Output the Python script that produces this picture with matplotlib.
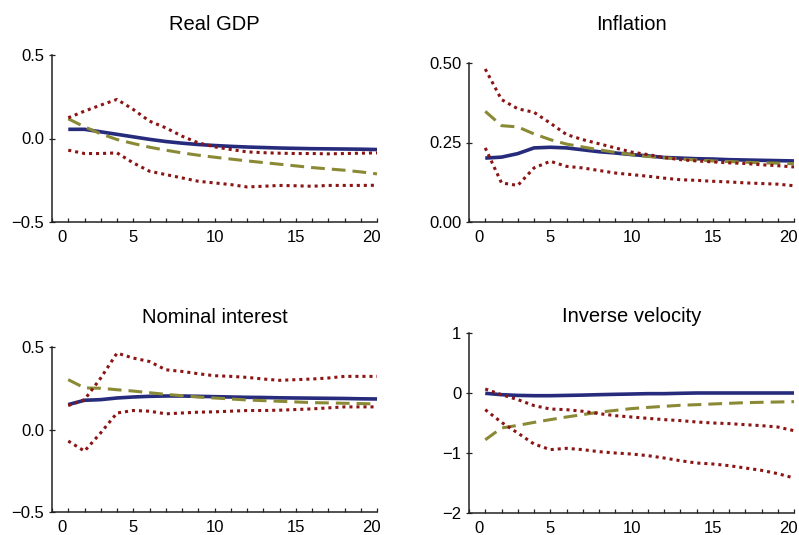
import matplotlib
matplotlib.use("Agg")
import matplotlib.pyplot as plt
import matplotlib.transforms as mtransforms
import numpy as np

plt.rcParams["font.family"] = ["Liberation Sans", "DejaVu Sans"]

periods = np.arange(1, 21)

# Real GDP
gdp_mean = [0.055, 0.055, 0.04, 0.025, 0.01, -0.005, -0.018, -0.028, -0.036, -0.042,
            -0.047, -0.051, -0.054, -0.057, -0.059, -0.061, -0.062, -0.063, -0.064, -0.066]
gdp_alt = [0.118, 0.07, 0.028, -0.006, -0.03, -0.052, -0.07, -0.086, -0.1, -0.112,
           -0.123, -0.134, -0.144, -0.154, -0.164, -0.174, -0.182, -0.19, -0.2, -0.212]
gdp_hi = [0.124, 0.164, 0.2, 0.234, 0.174, 0.104, 0.064, 0.014, -0.026, -0.05,
          -0.066, -0.08, -0.085, -0.088, -0.09, -0.09, -0.092, -0.09, -0.088, -0.086]
gdp_lo = [-0.07, -0.09, -0.09, -0.086, -0.146, -0.196, -0.216, -0.236, -0.256, -0.266,
          -0.276, -0.29, -0.286, -0.281, -0.283, -0.286, -0.281, -0.281, -0.281, -0.28]

# Inflation
inf_mean = [0.201, 0.204, 0.215, 0.233, 0.235, 0.233, 0.227, 0.221, 0.217, 0.212,
            0.208, 0.203, 0.201, 0.199, 0.198, 0.196, 0.195, 0.194, 0.193, 0.192]
inf_alt = [0.348, 0.303, 0.299, 0.277, 0.259, 0.245, 0.236, 0.227, 0.219, 0.212,
           0.206, 0.202, 0.198, 0.195, 0.192, 0.19, 0.188, 0.186, 0.185, 0.183]
inf_hi = [0.481, 0.385, 0.356, 0.345, 0.311, 0.275, 0.259, 0.246, 0.233, 0.22,
          0.212, 0.203, 0.196, 0.192, 0.189, 0.186, 0.184, 0.18, 0.177, 0.173]
inf_lo = [0.233, 0.123, 0.115, 0.17, 0.191, 0.175, 0.17, 0.162, 0.154, 0.149,
          0.144, 0.138, 0.133, 0.131, 0.128, 0.126, 0.123, 0.121, 0.119, 0.114]

# Nominal interest
int_mean = [0.151, 0.177, 0.181, 0.191, 0.197, 0.201, 0.203, 0.203, 0.201, 0.199,
            0.197, 0.195, 0.194, 0.192, 0.191, 0.19, 0.189, 0.188, 0.186, 0.185]
int_alt = [0.302, 0.252, 0.25, 0.241, 0.233, 0.223, 0.213, 0.205, 0.197, 0.191,
           0.185, 0.179, 0.175, 0.171, 0.167, 0.163, 0.161, 0.159, 0.157, 0.155]
int_hi = [0.145, 0.181, 0.312, 0.463, 0.433, 0.412, 0.362, 0.352, 0.338, 0.326,
          0.322, 0.316, 0.306, 0.298, 0.302, 0.306, 0.312, 0.322, 0.322, 0.322]
int_lo = [-0.07, -0.131, -0.02, 0.1, 0.115, 0.111, 0.095, 0.1, 0.105, 0.107,
          0.111, 0.115, 0.115, 0.117, 0.121, 0.125, 0.131, 0.137, 0.137, 0.137]

# Inverse velocity
vel_mean = [-0.005, -0.028, -0.04, -0.045, -0.045, -0.04, -0.035, -0.028, -0.022, -0.017,
            -0.011, -0.011, -0.005, 0.0, 0.0, 0.0, 0.0, 0.0, 0.0, 0.0]
vel_alt = [-0.78, -0.583, -0.54, -0.49, -0.444, -0.4, -0.36, -0.32, -0.29, -0.26,
           -0.24, -0.222, -0.205, -0.195, -0.183, -0.172, -0.161, -0.155, -0.15, -0.144]
vel_hi = [0.067, -0.028, -0.11, -0.21, -0.267, -0.278, -0.305, -0.344, -0.378, -0.4,
          -0.422, -0.444, -0.46, -0.483, -0.5, -0.51, -0.528, -0.544, -0.567, -0.628]
vel_lo = [-0.278, -0.489, -0.667, -0.85, -0.944, -0.922, -0.944, -0.978, -1.0, -1.017,
          -1.044, -1.083, -1.128, -1.167, -1.183, -1.211, -1.25, -1.289, -1.344, -1.417]

titles = ["Real GDP", "Inflation", "Nominal interest", "Inverse velocity"]
series = [(gdp_mean, gdp_alt, gdp_hi, gdp_lo),
          (inf_mean, inf_alt, inf_hi, inf_lo),
          (int_mean, int_alt, int_hi, int_lo),
          (vel_mean, vel_alt, vel_hi, vel_lo)]
ylims = [(-0.5, 0.5), (0.0, 0.5), (-0.5, 0.5), (-2, 1)]
yticks = [[-0.5, 0.0, 0.5], [0.0, 0.25, 0.5], [-0.5, 0.0, 0.5], [-2, -1, 0, 1]]
yfmt = ["{:.1f}", "{:.2f}", "{:.1f}", "{:.0f}"]

W, H = 799, 535
# axes boxes in pixels: left, bottom, width, height (from top of figure)
boxes = [(52, 222, 325, 167), (469, 222, 325, 159),
         (52, 512, 325, 165), (469, 513, 325, 180)]
title_y = [30, 30, 323, 322]

navy = "#272b7c"
olive = "#8a8a36"
red = "#8b1515"

fig = plt.figure(figsize=(W / 100, H / 100), dpi=100)

for i in range(4):
    l, b, w, h = boxes[i]
    ax = fig.add_axes([l / W, 1 - b / H, w / W, h / H])
    mean, alt, hi, lo = series[i]
    ax.plot(periods, mean, color=navy, lw=2.6, solid_capstyle="butt", clip_on=False, zorder=3)
    ax.plot(periods, alt, color=olive, lw=2.2, ls=(0, (4.5, 2.3)), clip_on=False, zorder=4)
    ax.plot(periods, hi, color=red, lw=2.2, ls=(0, (1, 1.3)), clip_on=False, zorder=5)
    ax.plot(periods, lo, color=red, lw=2.2, ls=(0, (1, 1.3)), clip_on=False, zorder=5)

    ax.set_xlim(0, 20)
    ax.set_ylim(*ylims[i])
    ax.set_xticks([0, 5, 10, 15, 20])
    ax.set_xticks(range(1, 21), minor=True)
    ax.set_yticks(yticks[i])
    ax.set_yticklabels([yfmt[i].format(v).replace("-", "\u2212") for v in yticks[i]])

    for s in ["top", "right"]:
        ax.spines[s].set_visible(False)
    for s in ["left", "bottom"]:
        ax.spines[s].set_linewidth(1.1)
        ax.spines[s].set_color("#222222")

    ax.tick_params(axis="x", which="both", direction="in", length=3, width=0.9,
                   labelsize=12, pad=6, color="#222222")
    ax.tick_params(axis="y", which="major", direction="inout", length=5, width=0.9,
                   labelsize=12, pad=3, color="#222222")

    # nudge the end labels of the x axis inward
    xl = ax.get_xticklabels()
    xl[0].set_transform(xl[0].get_transform() +
                        mtransforms.ScaledTranslation(7 / 72, 0, fig.dpi_scale_trans))
    xl[-1].set_transform(xl[-1].get_transform() +
                         mtransforms.ScaledTranslation(-4 / 72, 0, fig.dpi_scale_trans))

    fig.text((l + w / 2) / W, 1 - title_y[i] / H, titles[i], ha="center",
             va="baseline", fontsize=14.5)

fig.savefig("out.png", dpi=100)
